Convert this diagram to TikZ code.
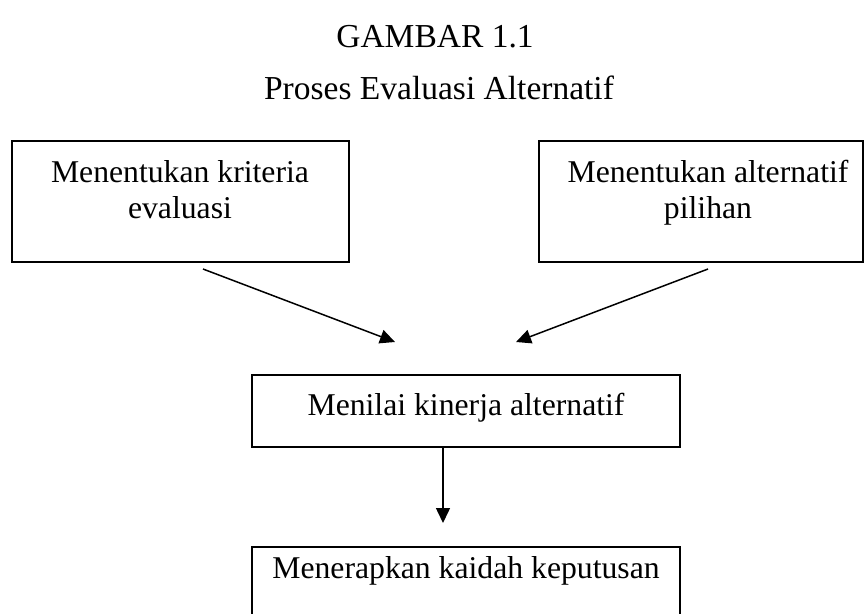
\documentclass[tikz,border=0pt]{standalone}
\usepackage{fontspec}
\setmainfont{Liberation Serif}
\usetikzlibrary{arrows.meta}
\begin{document}
\begin{tikzpicture}[x=1pt,y=-1pt,
  boxshape/.style={draw, line width=1.5pt, inner sep=0pt},
  boxtext/.style={font=\fontsize{31.7}{36}\selectfont, inner sep=0pt, anchor=base, align=center},
  titletext/.style={font=\fontsize{33.5}{38}\selectfont, inner sep=0pt, anchor=base},
  conn/.style={line width=1.5pt, -{Triangle[length=15pt,width=14pt]}}
]
\useasboundingbox (0,0) rectangle (864,613);
\clip (0,0) rectangle (864,613);

% titles
\node[titletext] (title1) at (435,47) {GAMBAR 1.1};
\node[titletext] (title2) at (439,99) {Proses Evaluasi Alternatif};

% boxes
\node[boxshape, minimum width=337pt, minimum height=121pt] (b1) at (180.5,201.5) {};
\node[boxshape, minimum width=324pt, minimum height=121pt] (b2) at (701,201.5) {};
\node[boxshape, minimum width=428pt, minimum height=72pt] (b3) at (466,411) {};
\node[boxshape, minimum width=428pt, minimum height=80pt] (b4) at (466,587) {};

% texts
\node[boxtext] (t1a) at (180,182) {Menentukan kriteria};
\node[boxtext] (t1b) at (180,218) {evaluasi};
\node[boxtext] (t2a) at (708,182) {Menentukan alternatif};
\node[boxtext] (t2b) at (708,218) {pilihan};
\node[boxtext] (t3) at (466,415) {Menilai kinerja alternatif};
\node[boxtext] (t4) at (466,578) {Menerapkan kaidah keputusan};

% connector ends
\coordinate (s1) at (203,269);
\coordinate (e1) at (395,342);
\coordinate (s2) at (708,269);
\coordinate (e2) at (516,342);
\coordinate (s3) at (443,447);
\coordinate (e3) at (443,523);

\draw[conn] (s1) -- (e1);
\draw[conn] (s2) -- (e2);
\draw[conn] (s3) -- (e3);
\end{tikzpicture}
\end{document}
